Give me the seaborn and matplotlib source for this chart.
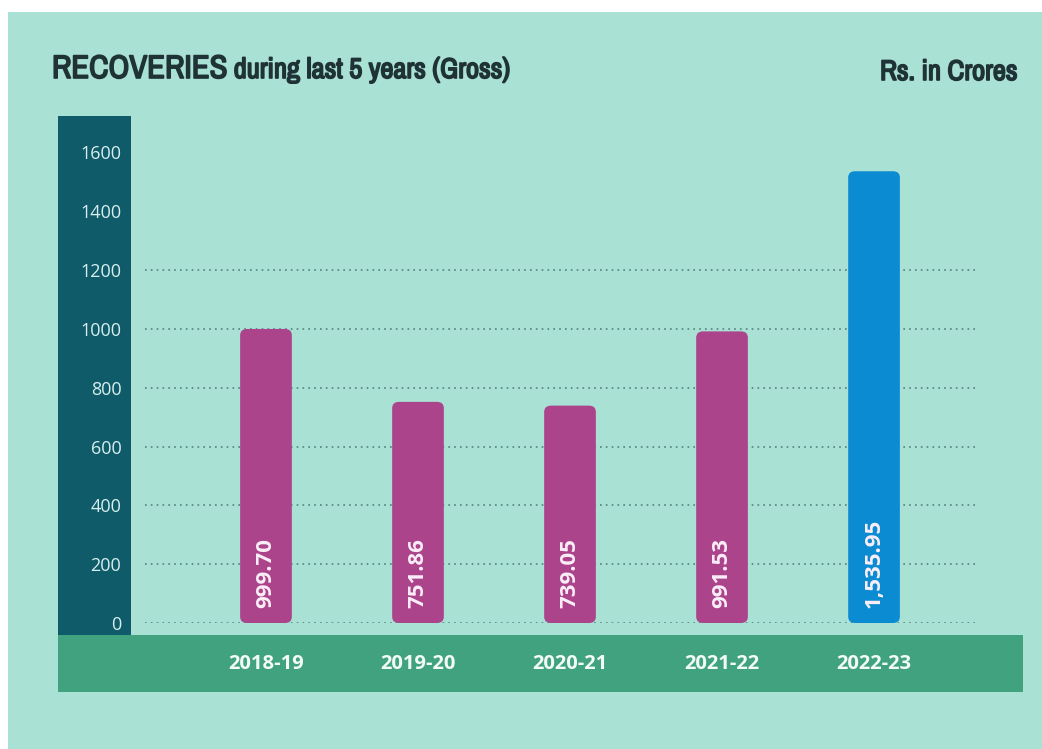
import matplotlib
matplotlib.use("Agg")
import matplotlib.pyplot as plt
from matplotlib import font_manager
from matplotlib import patheffects
from matplotlib.patches import Rectangle, FancyBboxPatch
import seaborn as sns
import pandas as pd

# Recoveries (gross), Rs. in crores
years = ["2018-19", "2019-20", "2020-21", "2021-22", "2022-23"]
recoveries = [999.70, 751.86, 739.05, 991.53, 1535.95]
value_labels = ["999.70", "751.86", "739.05", "991.53", "1,535.95"]
y_ticks = [0, 200, 400, 600, 800, 1000, 1200, 1400, 1600]
grid_levels = [0, 200, 400, 600, 800, 1000, 1200]

BG = "#a9e1d5"
DARK = "#0f5b69"
GREEN = "#40a27f"
MAGENTA = "#ab448b"
BLUE = "#0b8bd1"
TITLE = "#1f3236"

installed = sorted({f.name for f in font_manager.fontManager.ttflist})
condensed = [n for n in installed if "Narrow" in n or "Condensed" in n]
narrow = condensed[0] if condensed else ("Roboto" if "Roboto" in installed else "DejaVu Sans")
body = "Open Sans" if "Open Sans" in installed else "DejaVu Sans"

sns.set_theme(style="white")
plt.rcParams["font.family"] = [body, "DejaVu Sans"]

W, H = 1042, 749
fig = plt.figure(figsize=(W / 100, H / 100), dpi=100, facecolor="white")


def fx(px):
    return px / W


def fy(py):
    return 1 - py / H


# panel background and the two coloured bands
fig.patches.append(Rectangle((fx(8), 0), 1, fy(12), transform=fig.transFigure,
                             facecolor=BG, edgecolor="none", zorder=-3))
fig.patches.append(Rectangle((fx(58), fy(635)), fx(73), fy(116) - fy(635),
                             transform=fig.transFigure, facecolor=DARK,
                             edgecolor="none", zorder=-2))
fig.patches.append(Rectangle((fx(58), fy(692)), fx(965), fy(635) - fy(692),
                             transform=fig.transFigure, facecolor=GREEN,
                             edgecolor="none", zorder=-2))

ax = fig.add_axes([fx(131), fy(623), fx(892), fy(123) - fy(623)])
ax.set_facecolor("none")

df = pd.DataFrame({"year": years, "value": recoveries})
colors = [MAGENTA] * 4 + [BLUE]
sns.barplot(data=df, x="year", y="value", hue="year", palette=colors,
            saturation=1, legend=False, width=0.34, ax=ax, zorder=3)

ax.set_xlim(-0.888, 4.98)
ax.set_ylim(0, 1700)

# swap the plain rectangles for rounded ones
bars = [p for p in ax.patches if isinstance(p, Rectangle)]
for p in bars:
    x0, y0 = p.get_x(), p.get_y()
    w, h = p.get_width(), p.get_height()
    fc = p.get_facecolor()
    p.remove()
    ax.add_patch(FancyBboxPatch((x0, y0), w, h,
                                boxstyle="round,pad=0,rounding_size=0.045",
                                mutation_aspect=480, facecolor=fc,
                                edgecolor="none", zorder=3))

# dotted guide lines
for lvl in grid_levels:
    ax.axhline(lvl, xmin=0.0157, xmax=0.946, color="#55807d", lw=1.2,
               linestyle=(0, (1, 2.5)), zorder=1)

# values written up the bars
for i, (v, lab) in enumerate(zip(recoveries, value_labels)):
    ax.text(i, 50, lab, rotation=90, ha="center", va="bottom",
            color="#fbeef8", fontsize=16, fontweight="bold",
            family=[body, "DejaVu Sans"], zorder=4)

ax.set_yticks(y_ticks)
ax.set_yticklabels([str(t) for t in y_ticks], color="#d8eeee", fontsize=13)
ax.tick_params(axis="y", length=0, pad=7)
ax.set_xticks(range(len(years)))
ax.set_xticklabels(years, color="#f2fbf7", fontsize=14.5, fontweight="bold")
ax.tick_params(axis="x", length=0, pad=22)
ax.set_xlabel("")
ax.set_ylabel("")
for s in ax.spines.values():
    s.set_visible(False)

# headings in a heavy condensed face
heavy = [patheffects.withStroke(linewidth=1.2, foreground=TITLE)]
head = fig.text(fx(52), fy(78), "RECOVERIES", family=[narrow, "DejaVu Sans"],
                fontsize=23.5, fontweight="bold", color=TITLE, ha="left",
                va="baseline", path_effects=heavy)
renderer = fig.canvas.get_renderer()
head_end = head.get_window_extent(renderer).x1
fig.text(head_end / W + fx(6), fy(78), "during last 5 years (Gross)",
         family=[narrow, "DejaVu Sans"], fontsize=20.5, fontweight="bold",
         color=TITLE, ha="left", va="baseline", path_effects=heavy)
fig.text(fx(1018), fy(80), "Rs. in Crores", family=[narrow, "DejaVu Sans"],
         fontsize=20.5, fontweight="bold", color=TITLE, ha="right",
         va="baseline", path_effects=heavy)

fig.savefig("out.png", dpi=100, facecolor="white")
